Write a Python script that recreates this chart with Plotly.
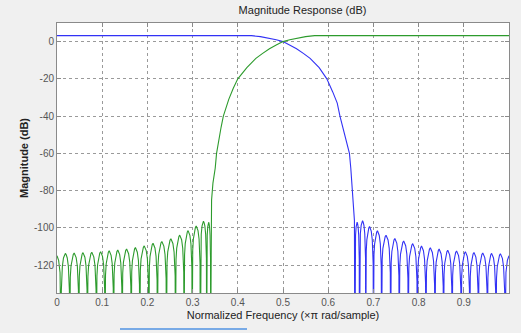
import plotly.graph_objects as go

# ---------------- data ----------------
NULL_DB = -170.0          # stopband nulls (effectively -inf), drawn below the axis

# measured shape of one stopband ripple lobe (position within lobe, dB relative to its peak)
LOBE_POS = [0.0, 0.03, 0.07, 0.15, 0.28, 0.40, 0.50, 0.60, 0.72, 0.85, 0.93, 0.97, 1.0]
LOBE_REL_DB = [None, -20.0, -13.0, -7.0, -2.5, -0.8, 0.0, -0.8, -2.5, -7.0, -13.0, -20.0, None]

# Highpass (green) stopband
green_start = (0.0, -115.0)
green_null_x = [0.009, 0.028, 0.048, 0.067, 0.087, 0.106, 0.125, 0.144, 0.164, 0.183,
                0.203, 0.222, 0.242, 0.262, 0.281, 0.299, 0.317, 0.331, 0.340]
green_peak_db = [-113.7, -113.5, -113.3, -113.1, -112.8, -112.3, -111.9, -111.4, -110.6, -109.7,
                 -108.3, -107.3, -105.9, -103.9, -101.5, -99.0, -96.4, -97.0]
# Highpass transition + passband
green_tr_x = [0.3405, 0.341, 0.342, 0.345, 0.350, 0.353, 0.358, 0.363, 0.368, 0.380, 0.390,
              0.400, 0.420, 0.440, 0.455, 0.470, 0.485, 0.500, 0.515, 0.530, 0.550, 0.570, 1.0]
green_tr_db = [-135, -96, -85, -76, -68, -60, -52, -46, -40, -31, -25,
               -20, -14, -9, -6.3, -3.8, -1.8, 0, 1.0, 1.8, 2.7, 3.2, 3.2]

# Lowpass (blue) passband + transition
blue_tr_x = [0.0, 0.430, 0.450, 0.470, 0.485, 0.500, 0.515, 0.530, 0.545, 0.560, 0.580,
             0.597, 0.610, 0.620, 0.626, 0.637, 0.647, 0.650, 0.653, 0.656, 0.658, 0.6585]
blue_tr_db = [3.2, 3.2, 2.7, 1.8, 1.0, 0, -1.8, -3.8, -6.3, -9, -14,
              -20, -27, -33, -40, -50, -60, -68, -78, -88, -96, -135]
# Lowpass stopband
blue_null_x = [0.659, 0.669, 0.683, 0.700, 0.718, 0.738, 0.757, 0.777, 0.797, 0.816,
               0.836, 0.855, 0.874, 0.894, 0.913, 0.932, 0.952, 0.971, 0.991]
blue_peak_db = [-97.0, -96.2, -99.3, -101.6, -104.0, -105.7, -107.1, -108.5, -109.8, -110.7,
                -111.4, -112.0, -112.4, -112.8, -113.2, -113.5, -113.7, -113.9]
blue_end = (1.0, -115.0)

x_ticks = [0, 0.1, 0.2, 0.3, 0.4, 0.5, 0.6, 0.7, 0.8, 0.9]
x_ticklabels = ["0", "0.1", "0.2", "0.3", "0.4", "0.5", "0.6", "0.7", "0.8", "0.9"]
y_ticks = [0, -20, -40, -60, -80, -100, -120]
y_ticklabels = ["0", "-20", "-40", "-60", "-80", "-100", "-120"]

BLUE = "rgb(50,50,245)"
GREEN = "rgb(45,155,45)"


def ripple(nulls, peaks):
    """Join the lobes between consecutive nulls using the measured lobe shape."""
    xs, ys = [], []
    for i, pk in enumerate(peaks):
        a, b = nulls[i], nulls[i + 1]
        for j, (p, r) in enumerate(zip(LOBE_POS, LOBE_REL_DB)):
            if j == len(LOBE_POS) - 1 and i < len(peaks) - 1:
                continue
            xs.append(a + p * (b - a))
            ys.append(NULL_DB if r is None else pk + r)
    return xs, ys


gx, gy = ripple(green_null_x, green_peak_db)
# partial first lobe from 0 down to the first null
gx = [green_start[0], green_null_x[0] * 0.4, green_null_x[0] * 0.75, green_null_x[0] * 0.92] + gx
gy = [green_start[1], green_start[1] - 2.5, green_start[1] - 9.0, green_start[1] - 18.0] + gy

bx, by = ripple(blue_null_x, blue_peak_db)
last = blue_null_x[-1]
bx += [last + (blue_end[0] - last) * 0.08, last + (blue_end[0] - last) * 0.25,
       last + (blue_end[0] - last) * 0.6, blue_end[0]]
by += [blue_end[1] - 18.0, blue_end[1] - 9.0, blue_end[1] - 2.5, blue_end[1]]

fig = go.Figure()
for xs, ys, c in [(blue_tr_x, blue_tr_db, BLUE), (bx, by, BLUE),
                  (green_tr_x, green_tr_db, GREEN), (gx, gy, GREEN)]:
    fig.add_trace(go.Scatter(x=xs, y=ys, mode="lines",
                             line=dict(color=c, width=1.1), hoverinfo="skip"))

axis_common = dict(
    showline=True, linecolor="#8a8a8a", linewidth=1, mirror="ticks",
    ticks="inside", ticklen=4, tickcolor="#8a8a8a",
    showgrid=True, gridcolor="#9a9a9a", griddash="3px,3px", gridwidth=1,
    zeroline=False, automargin=False,
    tickfont=dict(family="Liberation Sans", size=10, color="#555555"),
)

fig.update_layout(
    width=521, height=333,
    margin=dict(l=57, r=12, t=23, b=40),
    paper_bgcolor="#f0f0f0", plot_bgcolor="white",
    showlegend=False,
    title=dict(text="Magnitude Response (dB)", x=(283) / 521, xref="paper", xanchor="center",
               y=1 - 10 / 333, yanchor="middle", automargin=False,
               font=dict(family="Liberation Sans", size=11, color="#222222")),
    xaxis=dict(range=[0, 1], tickvals=x_ticks, ticktext=x_ticklabels,
               title=dict(text="Normalized Frequency (×π rad/sample)", standoff=4,
                          font=dict(family="Liberation Sans", size=11, color="#222222")),
               **axis_common),
    yaxis=dict(range=[-135, 10], tickvals=y_ticks, ticktext=y_ticklabels,
               title=dict(text="<b>Magnitude (dB)</b>", standoff=3,
                          font=dict(family="Liberation Sans", size=11, color="#222222")),
               **axis_common),
    shapes=[dict(type="line", xref="paper", yref="paper",
                 x0=(120 - 57) / 452, x1=(247 - 57) / 452, y0=-36 / 270, y1=-36 / 270,
                 line=dict(color="rgb(120,170,230)", width=2))],
)

fig.write_html("out.html", config={"displayModeBar": False},
               post_script="document.body.style.margin='0';document.body.style.background='#f0f0f0';")
